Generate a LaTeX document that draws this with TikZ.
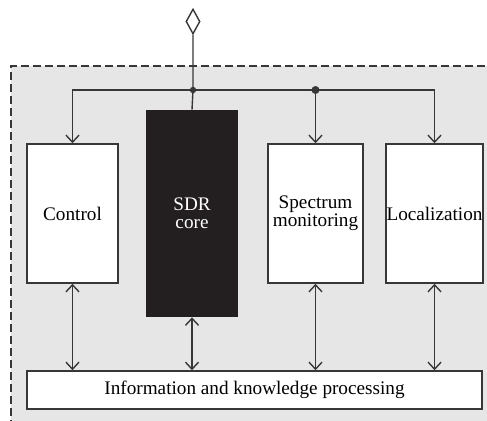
\documentclass[tikz,border=0pt]{standalone}
\usepackage{fontspec}
\setmainfont{Liberation Serif}
\usepackage{tikz}
\usetikzlibrary{shapes.geometric, arrows.meta, positioning}
\definecolor{panel}{RGB}{230,230,230}
\definecolor{ink}{RGB}{55,55,55}
\definecolor{coreblack}{RGB}{35,31,32}

\begin{document}
\begin{tikzpicture}[
  x=1pt, y=1pt,
  font=\fontsize{9.6}{9}\selectfont,
  box/.style={rectangle, draw=ink, line width=0.8pt, fill=white, inner sep=1pt,
              minimum height=69.5pt, align=center},
  core/.style={box, fill=coreblack, draw=coreblack, text=white, minimum height=103pt},
  arr/.style={-{Straight Barb[length=3.5pt, width=6.5pt]}, draw=ink, line width=0.7pt},
  dbl/.style={{Straight Barb[length=3.5pt, width=6.5pt]}-{Straight Barb[length=3.5pt, width=6.5pt]},
              draw=ink, line width=0.7pt},
  wire/.style={draw=ink, line width=0.7pt},
  jdot/.style={circle, fill=ink, inner sep=0pt}
]
\clip (0,0) rectangle (243.5,210);
\fill[panel] (5.5,-10) rectangle (260,177);
\draw[ink, line width=0.6pt, dash pattern=on 4pt off 2pt] (5.5,-10) |- (260,177);

\node[box, minimum width=45.5pt] (ctrl) at (36.25,103.25) {Control};
\node[core, minimum width=45pt, right=13.7pt of ctrl] (sdr) {SDR\\core};
\node[box, minimum width=47.5pt, right=14.7pt of sdr] (spec) {Spectrum\\monitoring};
\node[box, minimum width=48.5pt, inner sep=0pt, right=10.7pt of spec] (loc) {Localization};
\node[box, minimum width=227.5pt, minimum height=19pt] (info) at (127.25,15)
  {Information and knowledge processing};

\node[diamond, draw=ink, line width=0.7pt, fill=white, minimum width=7pt,
      minimum height=12.5pt, inner sep=0pt] (port) at (96.5,199.25) {};
\coordinate (jn) at (96.5,165);

\draw[wire] (port.south) -- (jn) -- (sdr.north);
\draw[arr] (jn) -| (ctrl.north);
\draw[arr] (jn) -| (loc.north);
\draw[arr] (jn -| spec.north) -- (spec.north);
\node[jdot, minimum size=3.2pt] at (jn) {};
\node[jdot, minimum size=4pt] at (jn -| spec.north) {};

\draw[dbl] (ctrl.south) -- (ctrl.south |- info.north);
\draw[dbl] (sdr.south) -- (sdr.south |- info.north);
\draw[dbl] (spec.south) -- (spec.south |- info.north);
\draw[dbl] (loc.south) -- (loc.south |- info.north);
\end{tikzpicture}
\end{document}
